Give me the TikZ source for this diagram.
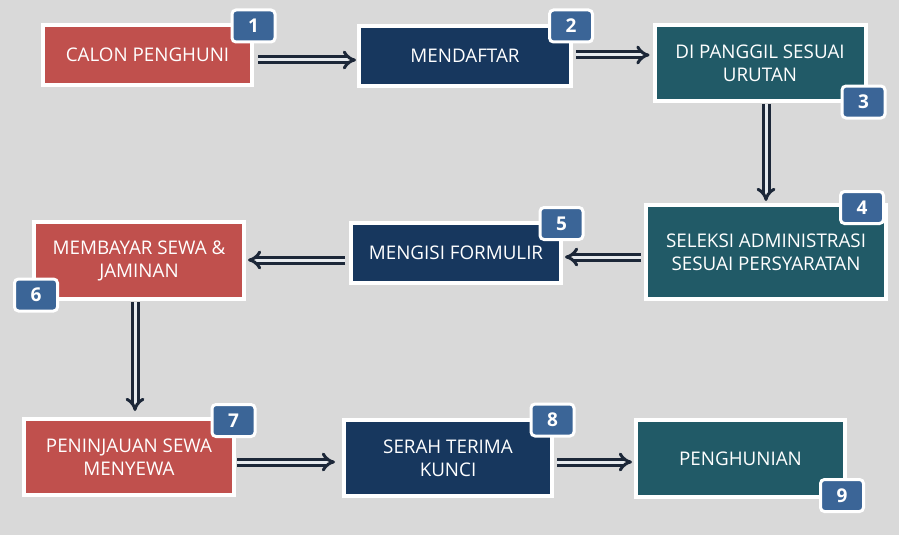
\documentclass[tikz,border=0pt]{standalone}
\usepackage{fontspec}
\setmainfont{Open Sans}
\usetikzlibrary{arrows.meta,calc}
\definecolor{bgc}{HTML}{D9D9D9}
\definecolor{redc}{HTML}{C0504D}
\definecolor{navyc}{HTML}{17375E}
\definecolor{tealc}{HTML}{215A67}
\definecolor{badgec}{HTML}{3B6597}
\definecolor{arrc}{HTML}{1C2738}
\definecolor{arrin}{HTML}{E6EAEE}
\tikzset{
  stepbox/.style={rectangle, draw=white, line width=4pt, text=white, align=center,
    font=\fontsize{18.8}{23}\selectfont, inner sep=0pt},
  badge/.style={rectangle, rounded corners=4pt, draw=white, line width=3pt, fill=badgec,
    text=white, font=\fontsize{19}{20}\bfseries\selectfont, minimum width=43pt, minimum height=32pt, inner sep=0pt},
  arr/.style={draw=arrc, line width=3pt, double=arrin, double distance=3pt, -{Implies}},
}
\begin{document}
\begin{tikzpicture}[x=1pt,y=-1pt]
\fill[bgc] (0,0) rectangle (899,535);
\useasboundingbox (0,0) rectangle (899,535);
% boxes
\node[stepbox, fill=redc, minimum width=209pt, minimum height=60pt] (b1) at (147.5,55) {CALON PENGHUNI};
\node[stepbox, fill=navyc, minimum width=212pt, minimum height=60pt] (b2) at (465,56) {MENDAFTAR};
\node[stepbox, fill=tealc, minimum width=211pt, minimum height=76pt] (b3) at (760,63) {DI PANGGIL SESUAI\\URUTAN};
\node[stepbox, fill=tealc, minimum width=240pt, minimum height=94pt] (b4) at (766,252) {SELEKSI ADMINISTRASI\\SESUAI PERSYARATAN};
\node[stepbox, fill=navyc, minimum width=210pt, minimum height=60pt] (b5) at (456,253) {MENGISI FORMULIR};
\node[stepbox, fill=redc, minimum width=210pt, minimum height=77pt] (b6) at (139,260.5) {MEMBAYAR SEWA \&\\JAMINAN};
\node[stepbox, fill=redc, minimum width=210pt, minimum height=76pt] (b7) at (129,457) {PENINJAUAN SEWA\\MENYEWA};
\node[stepbox, fill=navyc, minimum width=208pt, minimum height=76pt] (b8) at (448,458) {SERAH TERIMA\\KUNCI};
\node[stepbox, fill=tealc, minimum width=209pt, minimum height=77pt] (b9) at (740.5,458.5) {PENGHUNIAN};
% arrows
\draw[arr, shorten <=4pt, shorten >=1pt] ([yshift=-5pt]b1.east) -- ([yshift=-5pt]b1.east -| b2.west);
\draw[arr, shorten <=3pt, shorten >=3pt] ([yshift=1pt]b2.east) -- ([yshift=1pt]b2.east -| b3.west);
\draw[arr, shorten <=1pt, shorten >=2pt] ([xshift=6pt]b3.south) -- ([xshift=6pt]b3.south |- b4.north);
\draw[arr, shorten <=3pt, shorten >=2pt] ([yshift=-5pt]b4.west) -- ([yshift=-5pt]b4.west -| b5.east);
\draw[arr, shorten <=4pt, shorten >=2pt] ([yshift=-7pt]b5.west) -- ([yshift=-7pt]b5.west -| b6.east);
\draw[arr, shorten <=1pt, shorten >=6pt] ([xshift=-4pt]b6.south) -- ([xshift=-4pt]b6.south |- b7.north);
\draw[arr, shorten <=1pt, shorten >=7pt] ([yshift=-5pt]b7.east) -- ([yshift=-5pt]b7.east -| b8.west);
\draw[arr, shorten <=3pt, shorten >=2pt] ([yshift=-4pt]b8.east) -- ([yshift=-4pt]b8.east -| b9.west);
% badges
\node[badge] (n1) at (253.5,26) {1};
\node[badge] (n2) at (571,26) {2};
\node[badge] (n3) at (863.5,102) {3};
\node[badge] (n4) at (862,207.5) {4};
\node[badge] (n5) at (561.5,223.5) {5};
\node[badge] (n6) at (36,295) {6};
\node[badge] (n7) at (233.5,420.5) {7};
\node[badge] (n8) at (552.5,420) {8};
\node[badge] (n9) at (842,495.5) {9};
\end{tikzpicture}
\end{document}
